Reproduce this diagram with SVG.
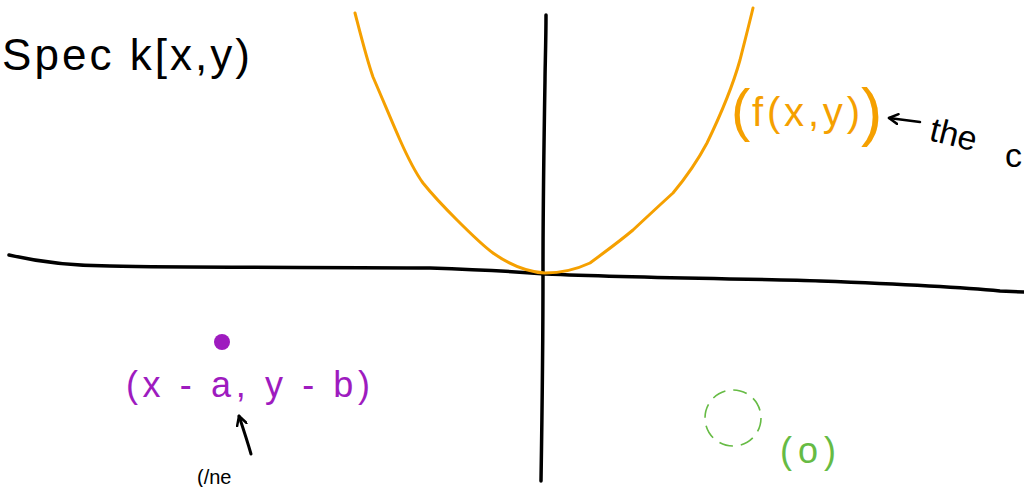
<svg xmlns="http://www.w3.org/2000/svg" width="1024" height="487" viewBox="0 0 1024 487">
<style>
.ink{fill:none;stroke:#000;stroke-width:3.5;stroke-linecap:round;stroke-linejoin:round}
.hand{font-family:"Liberation Sans","DejaVu Sans",sans-serif}
.blk{fill:#000}
.org{fill:#f5a000}
.pur{fill:#9e1bbf}
.grn{fill:#66bb44}
</style>
<defs>
<marker id="ah" viewBox="0 0 12 12" refX="10" refY="6" markerWidth="12" markerHeight="12" markerUnits="userSpaceOnUse" orient="auto">
<path d="M1,1 L10,6 L1,11" fill="none" stroke="#000" stroke-width="2.5" stroke-linecap="round" stroke-linejoin="round"/>
</marker>
</defs>
<rect width="1024" height="487" fill="#fff"/>

<g id="axes">
<path class="ink" d="M9,255 C40,262 70,266 110,266 C200,268 330,267 430,268 C490,270 520,272 545,274 C640,278 760,279 820,281 C900,284 960,287 1000,291 L1024,292"/>
<path class="ink" d="M546,15 C546,40 545,70 545,80 C544,140 543,200 543,270 C543,350 542,420 541,481"/>
</g>

<g id="curve">
<path fill="none" stroke="#f5a000" stroke-width="3" stroke-linecap="round" d="M355,13 C362,40 367,60 373,77 C383,100 392,122 400,140 C408,158 415,172 423,183 C435,198 446,209 457,220 C470,233 482,245 493,253 C510,265 528,272 545,273 C560,273 575,270 590,263 C605,252 620,241 633,230 C648,216 662,203 673,193 C688,175 698,160 707,143 C722,112 733,85 740,60 C745,40 749,25 753,8"/>
</g>

<g id="title">
<text class="hand blk" x="2" y="70" font-size="44" textLength="248" lengthAdjust="spacing">Spec k[x,y)</text>
</g>

<g id="f-label">
<text class="hand org" x="731" y="130" font-size="58">(</text>
<text class="hand org" x="752" y="126" font-size="40" textLength="108" lengthAdjust="spacing">f(x,y)</text>
<text class="hand org" x="861" y="134" font-size="64">)</text>
</g>

<g id="annotation-the">
<text class="hand blk" x="928" y="140" font-size="34" transform="rotate(14 928 140)">the</text>
<text class="hand blk" x="1005" y="167" font-size="34">c</text>
</g>

<g id="point">
<circle cx="222" cy="342" r="8" fill="#9e1bbf"/>
</g>

<g id="point-label">
<text class="hand pur" x="126" y="397" font-size="36" textLength="244" lengthAdjust="spacing">(x - a, y - b)</text>
</g>

<g id="bottom-label">
<text class="hand blk" x="197" y="484" font-size="20">(/ne</text>
</g>

<g id="zero-circle">
<circle cx="733" cy="418" r="28" fill="none" stroke="#66bb44" stroke-width="1.6" stroke-dasharray="14,8"/>
</g>

<g id="zero-label">
<text class="hand grn" x="780" y="463" font-size="36" textLength="56" lengthAdjust="spacing">(o)</text>
</g>

<g id="connectors">
<path d="M920,122 L889,118" fill="none" stroke="#000" stroke-width="2.5" stroke-linecap="round" marker-end="url(#ah)"/>
<path d="M251,454 C247,440 243,428 239,416" fill="none" stroke="#000" stroke-width="3" stroke-linecap="round" marker-end="url(#ah)"/>
</g>
</svg>
